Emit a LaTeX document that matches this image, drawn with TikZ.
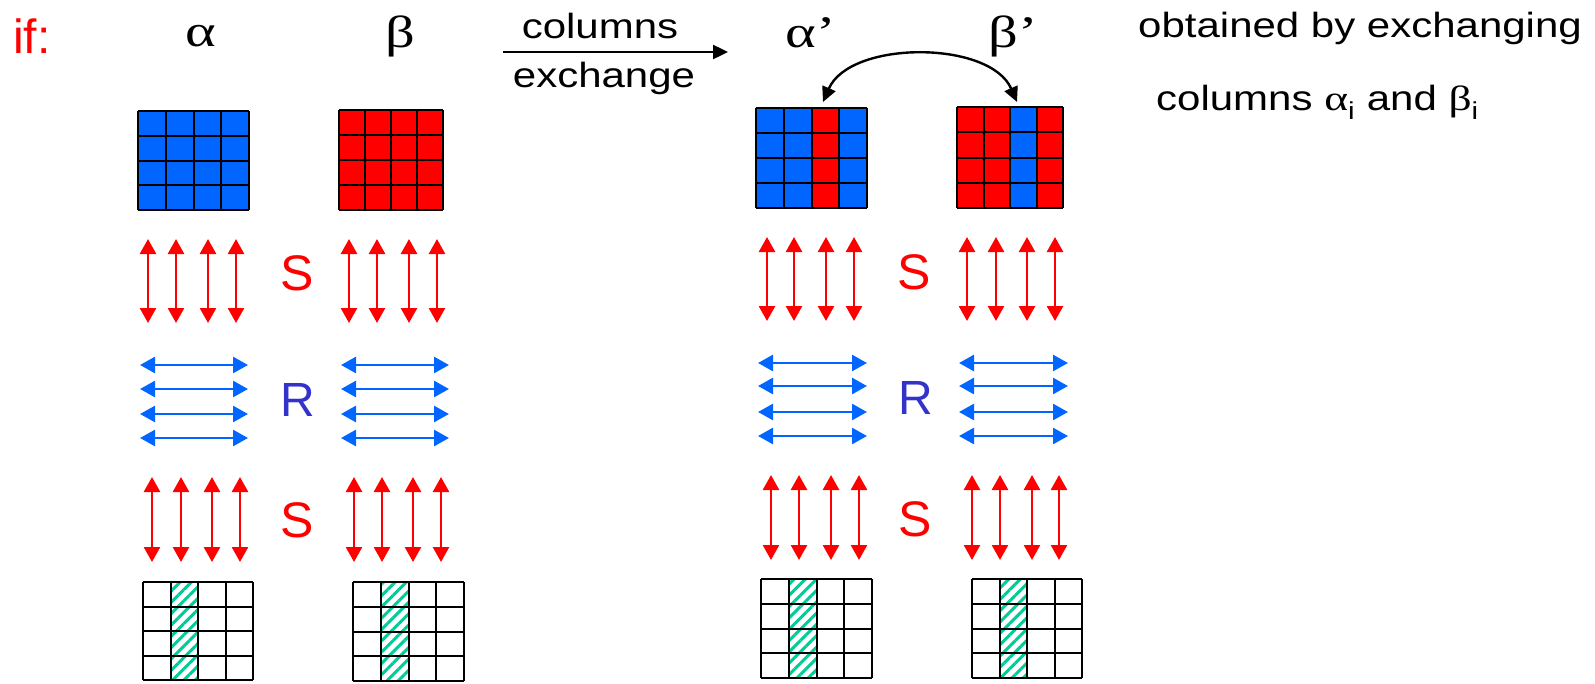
\documentclass[tikz,border=0pt]{standalone}
\usepackage{fontspec}
\setmainfont{Liberation Sans}
\newfontfamily\widesans{Liberation Sans}[FakeStretch=1.2]
\newfontfamily\wideserif{Liberation Serif}[FakeStretch=1.3]
\usetikzlibrary{arrows.meta,patterns.meta}
\definecolor{cblue}{RGB}{0,102,255}
\definecolor{cred}{RGB}{255,0,0}
\definecolor{rblue}{RGB}{51,51,204}
\definecolor{hatch}{RGB}{0,204,153}

% 4x4 matrix: x0, x1, y0, y1, then the fill of each column
\newcommand{\cellgrid}[8]{%
  \foreach \c [count=\i from 0] in {#5,#6,#7,#8}
    \path[fill=\c] ({#1+\i*(#2-#1)/4},#3) rectangle ({#1+(\i+1)*(#2-#1)/4},#4);
  \foreach \i in {0,...,4}{
    \draw[gridline] ({#1+\i*(#2-#1)/4},#3) -- ({#1+\i*(#2-#1)/4},#4);
    \draw[gridline] (#1,{#3+\i*(#4-#3)/4}) -- (#2,{#3+\i*(#4-#3)/4});
  }%
}
% hatched second column of a matrix
\newcommand{\hatchcol}[4]{%
  \fill[pattern={Lines[angle=45,distance=8pt,line width=3pt]},pattern color=hatch]
    ({#1+(#2-#1)/4},#3) rectangle ({#1+(#2-#1)/2},#4);
}

\begin{document}
\begin{tikzpicture}[x=1pt,y=-1pt,
  gridline/.style={line width=2pt},
  sarrow/.style={cred,line width=2.6pt,{Triangle[length=15pt,width=16pt]}-{Triangle[length=15pt,width=16pt]}},
  rarrow/.style={cblue,line width=2.6pt,{Triangle[length=15pt,width=16pt]}-{Triangle[length=15pt,width=16pt]}},
  blackarrow/.style={line width=2.4pt,-{Triangle[length=15pt,width=14pt]}},
  txt/.style={inner sep=0pt,anchor=base,font=\widesans\fontsize{35}{40}\selectfont},
  greek/.style={inner sep=0pt,anchor=base,font=\wideserif\fontsize{45}{48}\selectfont},
  sletter/.style={inner sep=0pt,text=cred,font=\fontsize{50}{50}\selectfont},
  rletter/.style={inner sep=0pt,text=rblue,font=\fontsize{48}{48}\selectfont}]
  \useasboundingbox (0,0) rectangle (1595,683);

  % titles
  \node[inner sep=0pt,anchor=base west,text=cred,font=\fontsize{48}{50}\selectfont] (ifmark) at (13,53) {if:};
  \node[greek] (alpha) at (201,46) {α};
  \node[greek] (beta) at (400,47) {β};
  \node[greek] (alphap) at (811,47) {α’};
  \node[greek] (betap) at (1013,47) {β’};
  \node[txt] (cols) at (600,38) {columns};
  \node[txt] (exch) at (604,87) {exchange};
  \coordinate (exfrom) at (503,52);
  \coordinate (exto) at (728,52);
  \draw[blackarrow] (exfrom) -- (exto);
  \node[txt,anchor=base west] (note1) at (1138,37) {obtained by exchanging};
  \node[txt,anchor=base west] (note2) at (1156,110)
    {columns {\wideserif α}\textsubscript{i} and {\wideserif β}\textsubscript{i}};

  % swap of the third columns
  \coordinate (swapA) at (823,102);
  \coordinate (swapB) at (1017,102);
  \draw[blackarrow,{Triangle[length=15pt,width=14pt]}-{Triangle[length=15pt,width=14pt]}]
    (swapA) .. controls (850,40) and (990,40) .. (swapB);

  % matrices
  \cellgrid{138}{249}{111}{210}{cblue}{cblue}{cblue}{cblue}
  \cellgrid{339}{443}{110}{210}{cred}{cred}{cred}{cred}
  \cellgrid{756}{867}{108}{208}{cblue}{cblue}{cred}{cblue}
  \cellgrid{957}{1063}{107}{208}{cred}{cred}{cblue}{cred}

  % S, R, S
  \foreach \x in {148,176,208,236,349,377,409,437}
    \draw[sarrow] (\x,239) -- (\x,323);
  \foreach \x in {767,794,826,854,967,996,1027,1055}
    \draw[sarrow] (\x,237) -- (\x,321);
  \foreach \y in {365,389,414,438}{
    \draw[rarrow] (140,\y) -- (248,\y);
    \draw[rarrow] (341,\y) -- (449,\y);
  }
  \foreach \y in {363,386,412,436}{
    \draw[rarrow] (758,\y) -- (867,\y);
    \draw[rarrow] (959,\y) -- (1068,\y);
  }
  \foreach \x in {152,181,212,240,354,382,413,441}
    \draw[sarrow] (\x,477) -- (\x,562);
  \foreach \x in {771,799,831,859,972,1000,1032,1059}
    \draw[sarrow] (\x,475) -- (\x,560);
  \node[sletter] (s1) at (297,273) {S};
  \node[rletter] (r1) at (298,400) {R};
  \node[sletter] (s2) at (297,520) {S};
  \node[sletter] (s3) at (914,272) {S};
  \node[rletter] (r2) at (916,398) {R};
  \node[sletter] (s4) at (915,519) {S};

  % result matrices
  \hatchcol{143}{253}{582}{680}
  \cellgrid{143}{253}{582}{680}{none}{none}{none}{none}
  \hatchcol{353}{464}{582}{681}
  \cellgrid{353}{464}{582}{681}{none}{none}{none}{none}
  \hatchcol{761}{872}{579}{678}
  \cellgrid{761}{872}{579}{678}{none}{none}{none}{none}
  \hatchcol{972}{1082}{579}{678}
  \cellgrid{972}{1082}{579}{678}{none}{none}{none}{none}
\end{tikzpicture}
\end{document}
